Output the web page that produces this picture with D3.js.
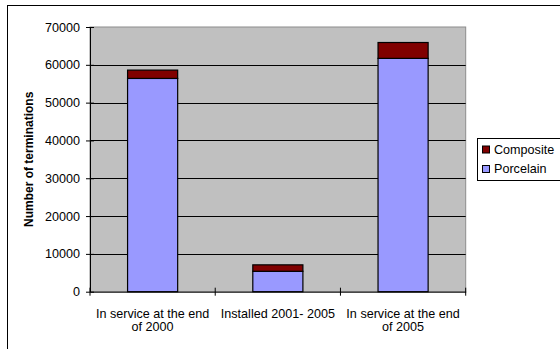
<!DOCTYPE html>
<html>
<head>
<meta charset="utf-8">
<script src="https://cdn.jsdelivr.net/npm/d3@7"></script>
<style>
  html, body { margin: 0; padding: 0; background: #fff; }
  svg { display: block; }
  text { font-family: "Liberation Sans", Arial, sans-serif; fill: #000; }
</style>
</head>
<body>
<svg id="chart" width="560" height="349"></svg>
<script>
// Terminations by insulator type
const categories = ["In service at the end of 2000", "Installed 2001- 2005", "In service at the end of 2005"];
const categoryLines = [["In service at the end", "of 2000"], ["Installed 2001- 2005"], ["In service at the end", "of 2005"]];
const porcelain = [56400, 5400, 61700];
const composite = [2200, 1700, 4200];
const seriesNames = ["Porcelain", "Composite"];
const seriesColors = ["#9999FF", "#800000"];
const yTicks = [0, 10000, 20000, 30000, 40000, 50000, 60000, 70000];

const svg = d3.select("#chart");
const plot = { left: 90, right: 465.7, top: 27, bottom: 291.7 };
const stretch = 1.05;

// outer chart frame (runs past the right and bottom edges)
svg.append("rect").attr("x", 7.5).attr("y", 5.5).attr("width", 600).attr("height", 400)
  .attr("fill", "none").attr("stroke", "#000").attr("stroke-width", 1);

const y = d3.scaleLinear().domain([0, 70000]).range([plot.bottom, plot.top]);
const xBar = d3.scaleBand().domain(categories).range([plot.left, plot.right])
  .paddingInner(0.6).paddingOuter(0.3);
const xCat = d3.scaleBand().domain(categories).range([plot.left, plot.right]).padding(0);

// plot area
svg.append("rect").attr("x", plot.left).attr("y", plot.top)
  .attr("width", plot.right - plot.left).attr("height", plot.bottom - plot.top)
  .attr("fill", "#C0C0C0").attr("stroke", "#8c8c8c").attr("stroke-width", 1);

// gridlines
svg.append("g").selectAll("line").data(yTicks.filter(d => d > 0 && d < 70000)).join("line")
  .attr("x1", plot.left).attr("x2", plot.right)
  .attr("y1", d => Math.round(y(d)) + 0.5).attr("y2", d => Math.round(y(d)) + 0.5)
  .attr("stroke", "#000").attr("stroke-width", 1);

// stacked bars
const rows = categories.map((c, i) => ({ cat: c, Porcelain: porcelain[i], Composite: composite[i] }));
const stacked = d3.stack().keys(seriesNames)(rows);
svg.append("g").selectAll("g").data(stacked).join("g")
  .attr("fill", (d, i) => seriesColors[i])
  .selectAll("rect").data(d => d).join("rect")
  .attr("x", d => xBar(d.data.cat))
  .attr("width", xBar.bandwidth())
  .attr("y", d => y(d[1]))
  .attr("height", d => y(d[0]) - y(d[1]))
  .attr("stroke", "#000").attr("stroke-width", 1.2);

// y axis
const yAxis = d3.axisLeft(y).tickValues(yTicks).tickSizeInner(4).tickSizeOuter(0).tickFormat(d3.format("d"));
const gy = svg.append("g").attr("transform", `translate(${plot.left},0)`).call(yAxis);
gy.select(".domain").attr("stroke", "#000");
gy.selectAll(".tick line").attr("x2", 4).attr("x1", -4).attr("stroke", "#000");
gy.selectAll(".tick text").remove();
gy.selectAll(".tick").append("text")
  .attr("transform", `translate(-10,4) scale(${stretch},1)`)
  .attr("text-anchor", "end").style("font-size", "12px")
  .text(d => d3.format("d")(d));

// x axis
const xAxis = d3.axisBottom(xCat).tickSize(0).tickFormat("");
const gx = svg.append("g").attr("transform", `translate(0,${plot.bottom})`).call(xAxis);
gx.select(".domain").attr("stroke", "#000");
const boundaries = [plot.left, ...categories.map(c => xCat(c) + xCat.bandwidth())];
gx.selectAll(".bound").data(boundaries).join("line").attr("class", "bound")
  .attr("x1", d => d).attr("x2", d => d).attr("y1", -4).attr("y2", 4).attr("stroke", "#000");

// category labels
categories.forEach((c, i) => {
  const cx = xCat(c) + xCat.bandwidth() / 2;
  categoryLines[i].forEach((line, j) => {
    svg.append("text")
      .attr("transform", `translate(${cx},${318 + j * 13}) scale(${stretch},1)`)
      .attr("text-anchor", "middle").style("font-size", "12px").text(line);
  });
});

// y axis title
svg.append("text")
  .attr("transform", `translate(33,${(plot.top + plot.bottom) / 2}) rotate(-90)`)
  .attr("text-anchor", "middle").style("font-size", "12px").style("font-weight", "bold")
  .text("Number of terminations");

// legend
const lg = svg.append("g");
lg.append("rect").attr("x", 477.5).attr("y", 138.5).attr("width", 100).attr("height", 42)
  .attr("fill", "#fff").attr("stroke", "#000");
const legendItems = [{ name: "Composite", color: seriesColors[1] }, { name: "Porcelain", color: seriesColors[0] }];
legendItems.forEach((it, i) => {
  const cy = 149.5 + i * 19.5;
  lg.append("rect").attr("x", 482.5).attr("y", cy - 3.5).attr("width", 7).attr("height", 7)
    .attr("fill", it.color).attr("stroke", "#000");
  lg.append("text").attr("transform", `translate(494,${cy + 4}) scale(${stretch},1)`)
    .style("font-size", "12px").text(it.name);
});
</script>
</body>
</html>
